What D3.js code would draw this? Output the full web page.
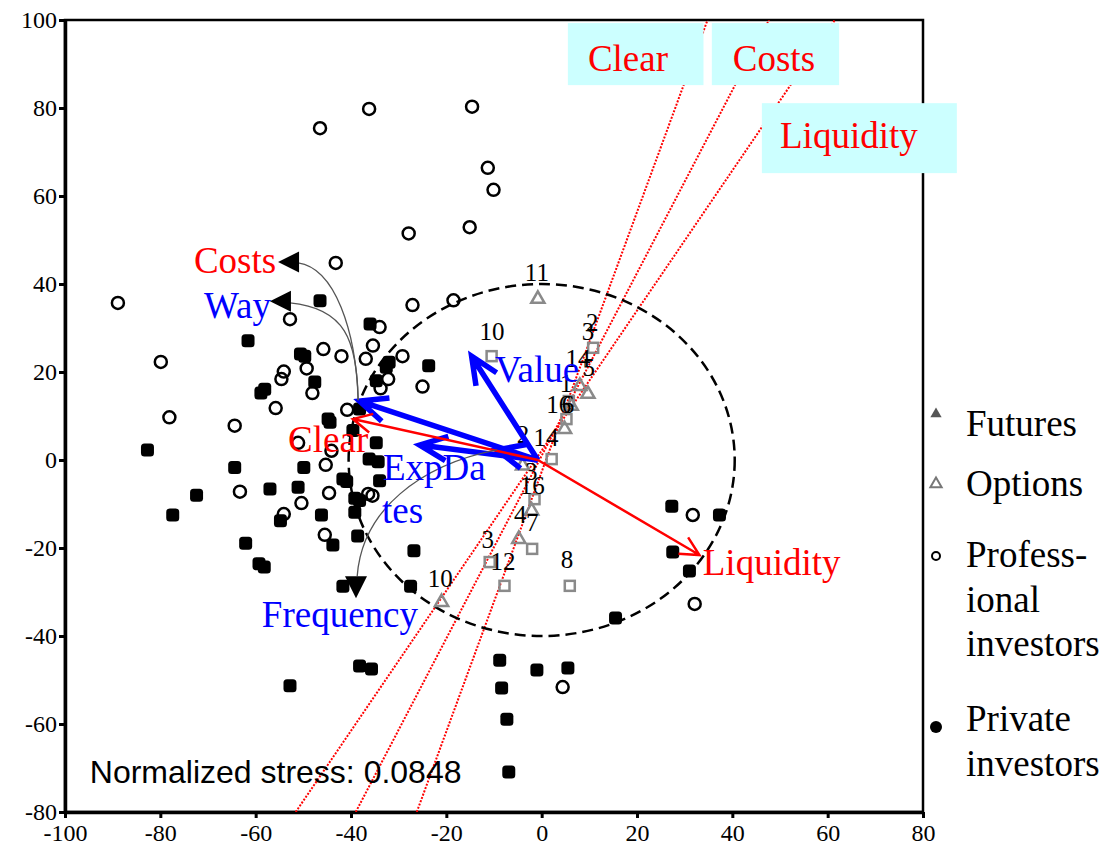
<!DOCTYPE html>
<html>
<head>
<meta charset="utf-8">
<script src="https://cdn.jsdelivr.net/npm/d3@7"></script>
<style>
  body { margin: 0; background: #fff; }
  svg { display: block; }
</style>
</head>
<body>
<svg id="chart" width="1109" height="851"></svg>
<script>
// ---- axis ticks ----
const xTicks = [-100, -80, -60, -40, -20, 0, 20, 40, 60, 80];
const yTicks = [-80, -60, -40, -20, 0, 20, 40, 60, 80, 100];

// ---- MDS configuration: respondents ----
const professionalPts = [
  [-46.5, 75.4], [-36.2, 79.8], [-14.6, 80.3], [-11.3, 66.4], [-10.1, 61.4], [-15.1, 52.9],
  [-27.9, 51.5], [-43.2, 44.8], [-88.9, 35.7], [-18.5, 36.3], [-27.1, 35.2], [-52.8, 32.0],
  [-34.0, 30.2], [-79.9, 22.3], [-45.8, 25.2], [-42.0, 23.6], [-35.4, 26.0], [-36.9, 23.0],
  [-29.2, 23.6], [-32.2, 18.4], [-49.3, 20.8], [-54.1, 20.1], [-54.6, 18.4], [-48.1, 15.2],
  [-33.8, 16.3], [-55.8, 11.8], [-25.0, 16.7], [-78.1, 9.7], [-64.4, 7.8], [-40.8, 11.4],
  [-51.1, 3.9], [-44.1, 2.1], [-45.3, -1.1], [-63.3, -7.2], [-44.6, -7.5], [-50.4, -9.8],
  [-54.1, -12.3], [-36.4, -7.7], [-35.5, -8.1], [-45.5, -17.0], [31.7, -12.5], [32.1, -32.7],
  [4.4, -51.6]
];
const privatePts = [
  [-61.6, 27.1], [-36.0, 30.9], [-46.5, 36.2], [-50.6, 24.1], [-49.7, 23.6], [-47.6, 17.7],
  [-58.9, 15.2], [-58.1, 16.1], [-32.0, 22.2], [-32.6, 21.1], [-34.7, 18.0], [-23.7, 21.4],
  [-38.2, 11.6], [-44.8, 9.3], [-44.4, 8.6], [-39.6, 6.7], [-34.7, 3.9], [-82.7, 2.3],
  [-64.4, -1.7], [-49.9, -1.7], [-36.2, 0.2], [-34.3, -0.4], [-34.0, -4.7], [-41.7, -4.3],
  [-40.9, -4.9], [-72.4, -8.0], [-77.4, -12.5], [-57.0, -6.6], [-51.1, -6.2], [-39.2, -8.7],
  [-38.2, -9.2], [-46.2, -12.5], [-54.8, -13.8], [-39.2, -11.9], [-38.6, -17.3], [-43.8, -19.3],
  [-62.1, -18.9], [-59.3, -23.6], [-58.2, -24.3], [-26.8, -20.6], [-41.7, -28.7], [-27.5, -28.7],
  [-38.2, -46.8], [-35.7, -47.5], [-52.8, -51.3], [27.3, -10.5], [27.5, -20.9], [31.0, -25.2],
  [37.3, -12.5], [15.5, -35.9], [-8.8, -45.5], [-8.4, -51.8], [-1.0, -47.7], [5.5, -47.3],
  [-7.3, -58.9], [-6.9, -70.9]
];

// ---- MDS configuration: contracts ----
const optionPts = [
  [-0.8, 36.6], [9.7, 15.0], [8.0, 16.8], [6.2, 12.3], [4.8, 7.0],
  [-4.0, -1.3], [-2.1, -11.5], [-4.8, -18.0], [-21.0, -32.3]
];
const futurePts = [
  [-10.5, 23.6], [10.8, 25.5], [5.2, 9.3], [5.7, 13.4], [2.1, 0.2],
  [-1.5, -8.9], [-2.0, -20.2], [-10.9, -23.2], [-7.8, -28.6], [5.9, -28.6]
];
const contractLabels = [
  ["11", -1.0, 42.7], ["10", -10.4, 29.3], ["2", 10.6, 31.4], ["3", 9.7, 29.3],
  ["14", 7.6, 23.2], ["5", 9.9, 21.1], ["1", 5.1, 17.5], ["16", 3.6, 12.7],
  ["6", 5.5, 12.7], ["14", 0.9, 5.2], ["2", -3.9, 5.9], ["3", -2.2, -2.5],
  ["16", -2.0, -5.7], ["4", -4.5, -12.3], ["7", -2.0, -14.1], ["3", -11.3, -18.0],
  ["12", -8.1, -23.0], ["8", 5.3, -22.5], ["10", -21.3, -26.8]
];

// ---- attribute vectors ----
const vectorOrigin = [-0.8, 0];
const vectorNames = ["Way", "Value", "ExpDates", "Frequency", "Clear", "Liquidity"];
const vectorTips = [[-38.2, 13.4], [-14.7, 23.6], [-25.6, 3.4], [-9.4, 2.3], [-39.6, 9.3], [33.1, -21.6]];
const vectorKinds = ["blue", "blue", "blue", "blue", "red", "red"];

// ---- property fitting lines (through the centroid) ----
const fitNames = ["Clear", "Costs", "Liquidity"];
const fitEnds = [[[-26.2, -80], [34.8, 100]], [[-39.0, -80], [47.7, 100]], [[-51.6, -80], [61.5, 100]]];

const W = 1109, H = 851;
const plot = { left: 65, right: 923, top: 20, bottom: 812 };
const serif = "'Liberation Serif', 'Times New Roman', serif";
const sans = "'Liberation Sans', Arial, sans-serif";
const RED = "#ff0000", BLUE = "#0000ff", GREY = "#8a8a8a";

const svg = d3.select("#chart");
svg.append("rect").attr("width", W).attr("height", H).attr("fill", "#fff");

const x = d3.scaleLinear().domain([-100, 80]).range([plot.left, plot.right]);
const y = d3.scaleLinear().domain([-80, 100]).range([plot.bottom, plot.top]);

svg.append("clipPath").attr("id", "plotClip")
  .append("rect").attr("x", plot.left).attr("y", plot.top)
  .attr("width", plot.right - plot.left).attr("height", plot.bottom - plot.top);

// frame
svg.append("rect")
  .attr("x", plot.left).attr("y", plot.top)
  .attr("width", plot.right - plot.left).attr("height", plot.bottom - plot.top)
  .attr("fill", "none").attr("stroke", "#000").attr("stroke-width", 2.5);

// axes
const yAxis = svg.append("g").attr("transform", `translate(${plot.left},0)`)
  .call(d3.axisLeft(y).tickValues(yTicks).tickSize(6).tickSizeOuter(0).tickPadding(2)
    .tickFormat(d3.format("d")));
const xAxis = svg.append("g").attr("transform", `translate(0,${plot.bottom})`)
  .call(d3.axisBottom(x).tickValues(xTicks).tickSize(6).tickSizeOuter(0).tickPadding(6)
    .tickFormat(d3.format("d")));
[xAxis, yAxis].forEach(g => {
  g.select(".domain").attr("stroke", "#000").attr("stroke-width", 3.5);
  g.selectAll(".tick line").attr("stroke", "#000").attr("stroke-width", 3);
  g.selectAll(".tick text").attr("fill", "#000")
    .style("font-family", serif).style("font-size", "24px");
});
// tick labels use a plain hyphen for negatives
[xAxis, yAxis].forEach(g => g.selectAll(".tick text").text(d => String(d)));

// property fitting lines (clipped to plot)
const fitG = svg.append("g").attr("clip-path", "url(#plotClip)");
fitEnds.forEach((seg, i) => {
  fitG.append("line")
    .attr("x1", x(seg[0][0])).attr("y1", y(seg[0][1]))
    .attr("x2", x(seg[1][0])).attr("y2", y(seg[1][1]))
    .attr("stroke", RED).attr("stroke-width", 2).attr("stroke-dasharray", "2,1.5")
    .attr("class", "fit-" + fitNames[i]);
});

// dashed reference circle (radius 40 in data units)
svg.append("ellipse")
  .attr("cx", x(0)).attr("cy", y(0))
  .attr("rx", x(40.5) - x(0)).attr("ry", y(0) - y(40))
  .attr("fill", "none").attr("stroke", "#000").attr("stroke-width", 2.5)
  .attr("stroke-dasharray", "11,6");

// respondents
svg.append("g").selectAll("circle").data(professionalPts).join("circle")
  .attr("cx", d => x(d[0])).attr("cy", d => y(d[1])).attr("r", 6)
  .attr("fill", "none").attr("stroke", "#000").attr("stroke-width", 2.5);
svg.append("g").selectAll("rect").data(privatePts).join("rect")
  .attr("x", d => x(d[0]) - 6.5).attr("y", d => y(d[1]) - 6.5)
  .attr("width", 13).attr("height", 13).attr("rx", 3.5)
  .attr("fill", "#000");

// contracts
svg.append("g").selectAll("rect").data(futurePts).join("rect")
  .attr("x", d => x(d[0]) - 5).attr("y", d => y(d[1]) - 5)
  .attr("width", 10).attr("height", 10)
  .attr("fill", "none").attr("stroke", GREY).attr("stroke-width", 2.5);
const tri = d3.symbol().type(d3.symbolTriangle).size(75);
svg.append("g").selectAll("path").data(optionPts).join("path")
  .attr("d", tri).attr("transform", d => `translate(${x(d[0])},${y(d[1])})`)
  .attr("fill", "none").attr("stroke", GREY).attr("stroke-width", 2.5);

svg.append("g").selectAll("text").data(contractLabels).join("text")
  .attr("x", d => x(d[1])).attr("y", d => y(d[2])).attr("dy", "0.35em")
  .attr("text-anchor", "middle")
  .style("font-family", serif).style("font-size", "25px").attr("fill", "#000")
  .text(d => d[0]);

// attribute vectors with open arrowheads
function arrowPath(tip, headLen, spread) {
  const ox = x(vectorOrigin[0]), oy = y(vectorOrigin[1]);
  const tx = x(tip[0]), ty = y(tip[1]);
  const ang = Math.atan2(oy - ty, ox - tx);
  const a1 = ang + spread, a2 = ang - spread;
  return `M${ox},${oy}L${tx},${ty}` +
    `M${tx + headLen * Math.cos(a1)},${ty + headLen * Math.sin(a1)}L${tx},${ty}` +
    `L${tx + headLen * Math.cos(a2)},${ty + headLen * Math.sin(a2)}`;
}
const vecG = svg.append("g").attr("fill", "none").attr("stroke-linecap", "butt");
vectorTips.forEach((tip, i) => {
  const blue = vectorKinds[i] === "blue";
  vecG.append("path")
    .attr("class", "vec-" + vectorNames[i])
    .attr("d", arrowPath(tip, blue ? 30 : 21, blue ? 0.42 : 0.47))
    .attr("stroke", blue ? BLUE : RED)
    .attr("stroke-width", blue ? 5.5 : 2.5)
    .attr("stroke-linejoin", "miter");
});

// curved leaders from vector tips to their labels
const leaders = [
  { pts: [[-38.5, 13.6], [-38.95, 29.5], [-43.4, 43.6], [-51.1, 44.8]], tip: [-55.3, 45.0], dir: "left" },
  { pts: [[-38.5, 13.6], [-38.7, 27.3], [-41.3, 34.5], [-52.8, 35.7]], tip: [-57.0, 36.1], dir: "left" },
  { pts: [[-9.4, 2.3], [-25.5, -1.1], [-37.7, -11.4], [-38.7, -26.4]], tip: [-38.95, -31.4], dir: "down" }
];
leaders.forEach(l => {
  const p = l.pts.map(d => [x(d[0]), y(d[1])]);
  svg.append("path")
    .attr("d", `M${p[0]}C${p[1]} ${p[2]} ${p[3]}`)
    .attr("fill", "none").attr("stroke", "#555").attr("stroke-width", 1.3);
  const tx = x(l.tip[0]), ty = y(l.tip[1]);
  const d = l.dir === "left"
    ? `M${tx},${ty}L${tx + 21},${ty - 10.5}L${tx + 21},${ty + 10.5}Z`
    : `M${tx},${ty}L${tx - 11},${ty - 22}L${tx + 11},${ty - 22}Z`;
  svg.append("path").attr("d", d).attr("fill", "#000");
});

// vector labels
const vecLabels = [
  { t: "Costs", at: [-55.7, 42.5], anchor: "end", c: RED },
  { t: "Way", at: [-56.8, 32.3], anchor: "end", c: BLUE },
  { t: "Clear", at: [-53.2, 1.8], anchor: "start", c: RED },
  { t: "Value", at: [-9.8, 17.7], anchor: "start", c: BLUE },
  { t: "ExpDa", at: [-33.3, -4.5], anchor: "start", c: BLUE },
  { t: "tes", at: [-33.5, -14.3], anchor: "start", c: BLUE },
  { t: "Frequency", at: [-58.7, -37.9], anchor: "start", c: BLUE },
  { t: "Liquidity", at: [33.8, -26.1], anchor: "start", c: RED }
];
svg.append("g").selectAll("text").data(vecLabels).join("text")
  .attr("x", d => x(d.at[0])).attr("y", d => y(d.at[1]))
  .attr("text-anchor", d => d.anchor).attr("fill", d => d.c)
  .style("font-family", serif).style("font-size", "37px")
  .text(d => d.t);

// boxed labels for the fitted property lines
const fitBoxes = [
  { t: "Clear", x0: 5.5, x1: 33.95, y0: 99.3, y1: 85.2, tx: 9.7, ty: 88.4 },
  { t: "Costs", x0: 35.7, x1: 62.4, y0: 99.3, y1: 85.2, tx: 40.1, ty: 88.4 },
  { t: "Liquidity", x0: 46.2, x1: 87.1, y0: 81.1, y1: 65.2, tx: 50.0, ty: 70.9 }
];
fitBoxes.forEach(b => {
  svg.append("rect")
    .attr("x", x(b.x0)).attr("y", y(b.y0))
    .attr("width", x(b.x1) - x(b.x0)).attr("height", y(b.y1) - y(b.y0))
    .attr("fill", "#ccffff");
  svg.append("text")
    .attr("x", x(b.tx)).attr("y", y(b.ty))
    .attr("fill", RED).style("font-family", serif).style("font-size", "37px")
    .text(b.t);
});

// stress annotation
svg.append("text")
  .attr("x", x(-94.8)).attr("y", y(-73.4))
  .attr("fill", "#000").style("font-family", sans).style("font-size", "32px")
  .text("Normalized stress: 0.0848");

// legend
const leg = svg.append("g");
const legX = 936, legTextX = 966;
leg.append("path").attr("d", d3.symbol().type(d3.symbolTriangle).size(55)())
  .attr("transform", `translate(${legX},414)`).attr("fill", "#555");
leg.append("path").attr("d", d3.symbol().type(d3.symbolTriangle).size(55)())
  .attr("transform", `translate(${legX},484)`).attr("fill", "none")
  .attr("stroke", "#777").attr("stroke-width", 2);
leg.append("circle").attr("cx", legX).attr("cy", 556).attr("r", 4)
  .attr("fill", "none").attr("stroke", "#000").attr("stroke-width", 2);
leg.append("circle").attr("cx", legX).attr("cy", 727).attr("r", 6).attr("fill", "#000");
const legLines = [
  ["Futures", 436], ["Options", 496], ["Profess-", 567], ["ional", 612],
  ["investors", 656], ["Private", 731], ["investors", 776]
];
leg.selectAll("text").data(legLines).join("text")
  .attr("x", legTextX).attr("y", d => d[1])
  .attr("fill", "#000").style("font-family", serif).style("font-size", "37px")
  .text(d => d[0]);
</script>
</body>
</html>
